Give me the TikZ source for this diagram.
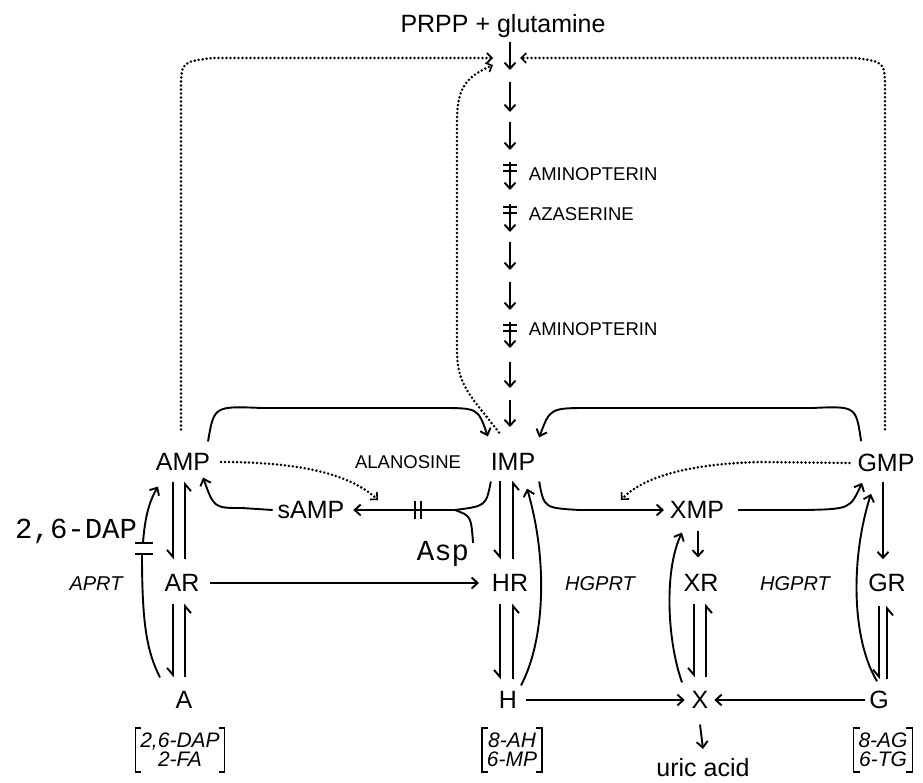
\documentclass[tikz,border=0pt]{standalone}
\usepackage{fontspec}
\setmainfont{Liberation Sans}
\setmonofont{Liberation Mono}
\usetikzlibrary{arrows.meta}

\begin{document}
\begin{tikzpicture}[x=1pt,y=-1pt,line width=1.9pt,
  tip/.style={-{Straight Barb[length=6pt,width=11pt]}},
  hp/.style={-{Straight Barb[right,length=7pt,width=12pt]}},
  dots/.style={line width=2.8pt,dash pattern=on 0pt off 4pt,line cap=round},
  dtip/.style={dots,-{Straight Barb[length=5pt,width=10pt,line width=1.6pt]}},
  met/.style={inner sep=0pt,font=\fontsize{25}{30}\selectfont},
  drug/.style={inner sep=0pt,font=\fontsize{18.5}{22}\selectfont},
  enz/.style={inner sep=0pt,font=\itshape\fontsize{20}{22}\selectfont},
  mono/.style={inner sep=0pt,font=\ttfamily\fontsize{29}{32}\selectfont},
  ana/.style={inner xsep=4pt,inner ysep=4pt,align=center,font=\itshape\fontsize{21}{19}\selectfont},
  brk/.style={line width=1.6pt}]

\fill[white] (0,0) rectangle (923,782);
\useasboundingbox (0,0) rectangle (923,782);

% metabolites
\node[met,anchor=base] (prpp) at (503,32) {PRPP + glutamine};
\node[met] (amp) at (183,462) {AMP};
\node[met] (imp) at (513,462) {IMP};
\node[met] (gmp) at (886,463) {GMP};
\node[met] (samp) at (311,510) {sAMP};
\node[met] (xmp) at (697,510) {XMP};
\node[met] (ar) at (182,583) {AR};
\node[met] (hr) at (510,583) {HR};
\node[met] (xr) at (701,583) {XR};
\node[met] (gr) at (887,583) {GR};
\node[met] (a) at (184,700) {A};
\node[met] (h) at (508,700) {H};
\node[met] (x) at (700,700) {X};
\node[met] (g) at (879,700) {G};
\node[met,anchor=base] (uric) at (703,776) {uric acid};

% drugs and enzymes
\node[drug,anchor=west] (amino1) at (528,174) {AMINOPTERIN};
\node[drug,anchor=west] (azas) at (528,214) {AZASERINE};
\node[drug,anchor=west] (amino2) at (528,329) {AMINOPTERIN};
\node[drug] (alan) at (408,462) {ALANOSINE};
\node[enz] (aprt) at (96,584) {APRT};
\node[enz] (hg1) at (600,584) {HGPRT};
\node[enz] (hg2) at (795,584) {HGPRT};
\node[mono,anchor=base east] (dap) at (138,538) {2,6-DAP};
\node[mono,anchor=base] (asp) at (443,560) {Asp};

% base analogues in brackets
\node[ana] (b1) at (180,750) {2,6-DAP\\2-FA};
\node[ana] (b2) at (512,750) {8-AH\\6-MP};
\node[ana] (b3) at (883,750) {8-AG\\6-TG};
\foreach \b in {b1,b2,b3}{
  \draw[brk] ([xshift=6pt]\b.north west) -- (\b.north west) -- (\b.south west) -- ([xshift=6pt]\b.south west);
  \draw[brk] ([xshift=-6pt]\b.north east) -- (\b.north east) -- (\b.south east) -- ([xshift=-6pt]\b.south east);
}

% de novo chain PRPP -> IMP
\foreach \i/\s/\e in {1/42/70,2/82/112,3/122/150,4/162/190,5/204/232,6/242/270,7/282/310,8/322/348,9/362/388,10/400/427}{
  \coordinate (s\i) at (510,\s);
  \coordinate (e\i) at (510,\e);
  \draw[tip] (s\i) -- (e\i);
}
\foreach \i in {4,5,8}{
  \draw[line width=1.5pt] ([xshift=-7pt,yshift=-3pt]s\i) -- ([xshift=7pt,yshift=-3pt]s\i);
  \draw[line width=1.5pt] ([xshift=-7pt,yshift=-9pt]s\i) -- ([xshift=7pt,yshift=-9pt]s\i);
}

% feedback to the first step
\coordinate (fbl) at (493,58);
\coordinate (fbr) at (520,58);
\coordinate (fbm) at (493,65);
\draw[dtip] ([xshift=-2pt,yshift=23pt]amp.north) -- (181,92) .. controls (181,62) .. (212,58) -- (fbl);
\draw[dtip] ([xshift=-1pt,yshift=24pt]gmp.north) -- (885,92) .. controls (885,62) .. (856,58) -- (fbr);
\draw[dtip] ([xshift=-14pt,yshift=20pt]imp.north) .. controls (470,395) and (457,385) .. (457,350)
   -- (457,120) .. controls (457,86) and (468,76) .. (fbm);

% AMP / IMP / GMP interconversions
\draw[tip] ([xshift=-3pt,yshift=11pt]amp.north east) .. controls (214,406) .. (262,408) -- (440,408)
   .. controls (478,408) .. ([xshift=-2pt,yshift=16pt]imp.north west);
\draw[tip] ([xshift=4.5pt,yshift=12pt]gmp.north west) .. controls (856,406) .. (812,408) -- (590,408)
   .. controls (550,408) .. ([xshift=3pt,yshift=15pt]imp.north east);
\draw[tip] ([xshift=1pt,yshift=-10pt]imp.south west) .. controls (486,506) .. (455,510) -- ([xshift=8pt]samp.east);
\draw[line width=1.6pt] (415,501) -- (415,519);
\draw[line width=1.6pt] (421,501) -- (421,519);
\draw ([xshift=3pt,yshift=-3pt]asp.north east) .. controls (471,516) .. (455,510);
\draw[tip] ([xshift=-4pt]samp.west) -- (242,508) .. controls (214,508) .. ([xshift=-8pt,yshift=-6pt]amp.south east);
\draw[tip] ([xshift=3pt,yshift=-10pt]imp.south east) .. controls (544,508) .. (580,510) -- ([xshift=-5pt]xmp.west);
\draw[tip] ([xshift=13pt]xmp.east) -- (805,510) .. controls (850,509) .. ([xshift=5.5pt,yshift=-10pt]gmp.south west);
\draw[dtip] ([xshift=10pt]amp.east) .. controls (300,462) and (350,474) .. (378,500);
\draw[dtip] ([xshift=-7pt]gmp.west) -- (760,462) .. controls (680,464) and (640,480) .. (621,500);

% nucleotide / nucleoside / base steps
\draw[hp] ([xshift=-10pt,yshift=-10pt]amp.south) -- ([xshift=-9pt,yshift=14pt]ar.north);
\draw[hp] ([xshift=3pt,yshift=14pt]ar.north) -- ([xshift=2pt,yshift=-10pt]amp.south);
\draw[hp] ([xshift=-9pt,yshift=-11pt]ar.south) -- ([xshift=-11pt,yshift=13pt]a.north);
\draw[hp] ([xshift=1pt,yshift=13pt]a.north) -- ([xshift=3pt,yshift=-11pt]ar.south);
\draw[hp] ([xshift=-13pt,yshift=-9pt]imp.south) -- ([xshift=-10pt,yshift=14pt]hr.north);
\draw[hp] ([xshift=3pt,yshift=14pt]hr.north) -- ([yshift=-9pt]imp.south);
\draw[hp] ([xshift=-10pt,yshift=-11pt]hr.south) -- ([xshift=-8pt,yshift=11pt]h.north);
\draw[hp] ([xshift=5pt,yshift=11pt]h.north) -- ([xshift=3pt,yshift=-11pt]hr.south);
\draw[hp] ([xshift=-7pt,yshift=-11pt]xr.south) -- ([xshift=-6pt,yshift=13pt]x.north);
\draw[hp] ([xshift=6pt,yshift=13pt]x.north) -- ([xshift=5pt,yshift=-11pt]xr.south);
\draw[hp] ([xshift=-8pt,yshift=-13pt]gr.south) -- ([yshift=11pt]g.north);
\draw[hp] ([xshift=8pt,yshift=11pt]g.north) -- ([yshift=-13pt]gr.south);
\draw[tip] ([xshift=-3pt,yshift=-9pt]gmp.south) -- ([xshift=-4pt,yshift=14pt]gr.north);
\draw[tip] ([xshift=1pt,yshift=-11pt]xmp.south) -- ([xshift=-3pt,yshift=16pt]xr.north);
\draw[tip] ([xshift=10pt]ar.east) -- ([xshift=-12pt]hr.west);
\draw[tip] ([xshift=8pt]h.east) -- ([xshift=-6pt]x.west);
\draw[tip] ([xshift=-3pt]g.west) -- ([xshift=5pt]x.east);
\draw[tip] ([yshift=-15pt]x.south) -- ([yshift=8pt]uric.north);

% phosphoribosyltransferase routes
\draw ([xshift=-24pt,yshift=13pt]a.north) .. controls (146,650) and (142,620) .. (142,554);
\draw[line width=1.6pt] (135,543) -- (153,543);
\draw[line width=1.6pt] (135,554) -- (153,554);
\draw[tip] (143,543) .. controls (145,515) and (150,500) .. ([xshift=-25pt,yshift=-15pt]amp.south);
\draw[tip] ([xshift=13pt,yshift=5pt]h.north) .. controls (545,640) and (548,560) .. ([xshift=14pt,yshift=-17pt]imp.south);
\draw[tip] ([xshift=-18pt,yshift=8pt]x.north) .. controls (667,640) and (664,570) .. ([xshift=-15pt,yshift=-13pt]xmp.south);
\draw[tip] ([xshift=-2pt,yshift=9pt]g.north) .. controls (852,640) and (850,560) .. ([xshift=-15pt,yshift=-21pt]gmp.south);
\end{tikzpicture}
\end{document}
